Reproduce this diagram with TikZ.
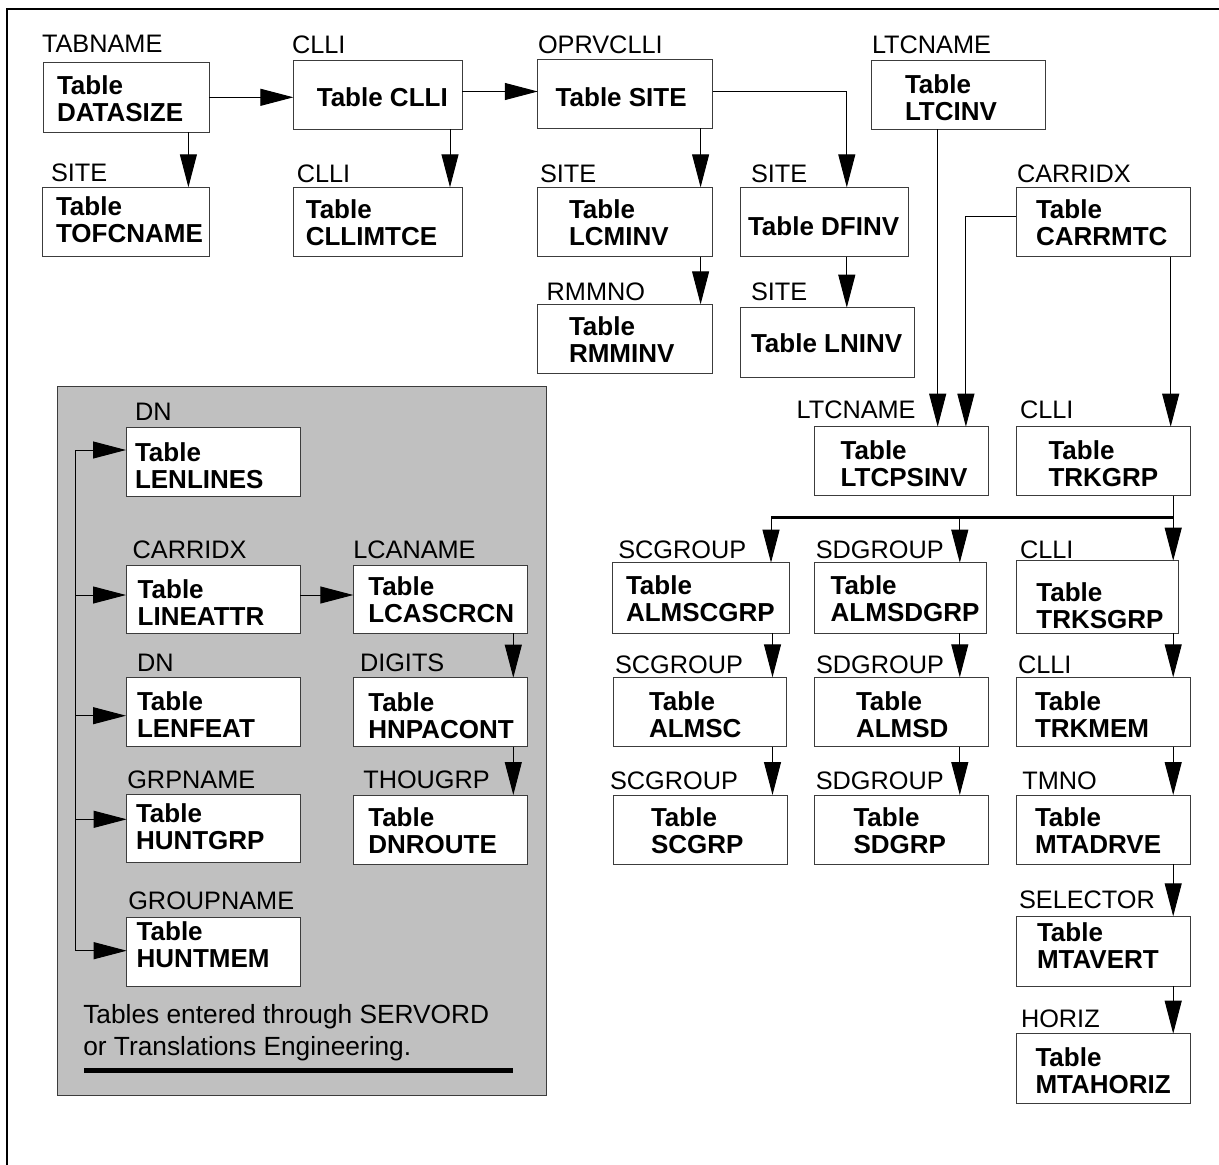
\documentclass[tikz,border=0pt]{standalone}
\usepackage{fontspec}
\setmainfont{Liberation Sans}
\usetikzlibrary{arrows.meta}
\definecolor{panelgrey}{RGB}{192,192,192}
\definecolor{edgegrey}{RGB}{60,60,60}
\tikzset{
  tabbox/.style={draw=edgegrey, fill=white, line width=1pt, inner sep=0pt, outer sep=0pt},
  boxtext/.style={inner sep=0pt, outer sep=0pt, align=left, anchor=north west,
    font=\fontsize{26}{27}\selectfont\bfseries},
  keylabel/.style={inner sep=0pt, outer sep=0pt, anchor=base west,
    font=\fontsize{25.3}{27}\selectfont},
  conn/.style={draw=black, line width=1pt},
  arr/.style={conn, -{Triangle[length=33pt,width=17pt]}},
  busline/.style={draw=black, line width=2.8pt},
}
% name, x1, y1, x2, y2, text x, first baseline, text
\newcommand\tbox[8]{%
  \node[tabbox, minimum width={(#4-#2)*1pt}, minimum height={(#5-#3)*1pt}]
    (#1) at ({(#2+#4)/2},{(#3+#5)/2}) {};
  \node[boxtext] (#1t) at (#6,{#7-18.8}) {#8};
}
\newcommand\klabel[4]{\node[keylabel] (#1) at (#2,#3) {#4};}
\begin{document}
\begin{tikzpicture}[x=1pt,y=-1pt]
\useasboundingbox (0,0) rectangle (1219,1165);
\fill[white] (0,0) rectangle (1219,1165);
% frame
\draw[line width=1.8pt] (7,1165) -- (7,9) -- (1219,9);
% grey panel
\node[draw=edgegrey, fill=panelgrey, line width=1pt, inner sep=0pt,
  minimum width={(546-57.3)*1pt}, minimum height={(1095-386.7)*1pt}]
  (panel) at ({(57.3+546)/2},{(386.7+1095)/2}) {};

% ---- top left
\klabel{l1}{42}{52.7}{TABNAME}
\tbox{datasize}{43.4}{62.5}{209}{132}{57}{94.5}{Table\\DATASIZE}
\klabel{l2}{51}{181.7}{SITE}
\tbox{tofcname}{42.7}{187.3}{209.4}{256.7}{56}{215}{Table\\TOFCNAME}
\klabel{l3}{292}{53}{CLLI}
\tbox{clli}{293.4}{60.7}{462.1}{129.3}{316.8}{106}{Table CLLI}
\klabel{l4}{296.8}{182}{CLLI}
\tbox{cllimtce}{293.4}{187.3}{462.1}{256.7}{305.8}{218.3}{Table\\CLLIMTCE}
% ---- top middle
\klabel{l5}{538}{53.3}{OPRVCLLI}
\tbox{site}{537.8}{59.3}{712.6}{128.3}{555.7}{106.7}{Table SITE}
\klabel{l6}{540}{182}{SITE}
\tbox{lcminv}{537.8}{187.3}{712.6}{256.7}{569}{218}{Table\\LCMINV}
\klabel{l7}{546.7}{300}{RMMNO}
\tbox{rmminv}{537.8}{304.3}{712.6}{373.3}{569}{335}{Table\\RMMINV}
\klabel{l8}{751}{182}{SITE}
\tbox{dfinv}{740.7}{187.3}{908.8}{256.7}{748}{235}{Table DFINV}
\klabel{l9}{751}{300}{SITE}
\tbox{lninv}{740.7}{307.7}{914.6}{377.3}{751}{352}{Table LNINV}
\klabel{l10}{872}{53}{LTCNAME}
\tbox{ltcinv}{871.7}{60.7}{1045.7}{129}{905}{93}{Table\\LTCINV}
\klabel{l11}{1017}{182}{CARRIDX}
\tbox{carrmtc}{1016}{187.3}{1190}{256.7}{1036}{218}{Table\\CARRMTC}
% ---- right lower
\klabel{l12}{796.6}{418.3}{LTCNAME}
\tbox{ltcpsinv}{814.6}{426.7}{988.3}{495.7}{840.7}{459}{Table\\LTCPSINV}
\klabel{l13}{1020}{418.3}{CLLI}
\tbox{trkgrp}{1016.4}{426.7}{1190.5}{495.7}{1048.5}{459}{Table\\TRKGRP}
\klabel{l14}{618.3}{558.3}{SCGROUP}
\tbox{almscgrp}{612.7}{562.7}{789.3}{633.3}{626}{594.3}{Table\\ALMSCGRP}
\klabel{l15}{815.8}{558.3}{SDGROUP}
\tbox{almsdgrp}{814.6}{562.7}{986.3}{633.3}{830.7}{594.3}{Table\\ALMSDGRP}
\klabel{l16}{1020}{558.3}{CLLI}
\tbox{trksgrp}{1016.4}{560.7}{1178}{633.3}{1036.4}{601.7}{Table\\TRKSGRP}
\klabel{l17}{615}{673.3}{SCGROUP}
\tbox{almsc}{613}{677.3}{786.5}{746.7}{649}{710}{Table\\ALMSC}
\klabel{l18}{816}{673.3}{SDGROUP}
\tbox{almsd}{814.6}{677.3}{988.3}{746.7}{856}{710}{Table\\ALMSD}
\klabel{l19}{1018}{673.3}{CLLI}
\tbox{trkmem}{1016.4}{677.3}{1190.5}{746.7}{1035}{710}{Table\\TRKMEM}
\klabel{l20}{610}{789.3}{SCGROUP}
\tbox{scgrp}{613.3}{795}{787.8}{864.3}{651}{826.7}{Table\\SCGRP}
\klabel{l21}{815.8}{789.3}{SDGROUP}
\tbox{sdgrp}{814.3}{795}{988.3}{864.3}{853.5}{826.7}{Table\\SDGRP}
\klabel{l22}{1022.4}{789.3}{TMNO}
\tbox{mtadrve}{1016.4}{795}{1190.5}{864.3}{1035}{826.7}{Table\\MTADRVE}
\klabel{l23}{1019}{908.3}{SELECTOR}
\tbox{mtavert}{1016.4}{916.3}{1190.5}{986}{1037}{941.7}{Table\\MTAVERT}
\klabel{l24}{1021}{1027.7}{HORIZ}
\tbox{mtahoriz}{1016.4}{1033.7}{1190.5}{1103.3}{1035.5}{1066.7}{Table\\MTAHORIZ}
% ---- grey panel content
\klabel{g1}{135}{420.7}{DN}
\tbox{lenlines}{126}{427.7}{300}{496.7}{135}{461}{Table\\LENLINES}
\klabel{g2}{132.7}{558.3}{CARRIDX}
\tbox{lineattr}{126}{565}{300}{633.3}{137.7}{598.3}{Table\\LINEATTR}
\klabel{g3}{353.3}{558.3}{LCANAME}
\tbox{lcascrcn}{353.3}{565}{527.7}{633.3}{368.3}{595}{Table\\LCASCRCN}
\klabel{g4}{137}{671.7}{DN}
\tbox{lenfeat}{126}{677.7}{300}{746.7}{137}{710}{Table\\LENFEAT}
\klabel{g5}{360}{671.7}{DIGITS}
\tbox{hnpacont}{353.3}{677.7}{527.7}{746.7}{368.3}{711.7}{Table\\HNPACONT}
\klabel{g6}{127.3}{788.3}{GRPNAME}
\tbox{huntgrp}{126.7}{794}{300.7}{862.7}{136}{822.7}{Table\\HUNTGRP}
\klabel{g7}{363.3}{788.3}{THOUGRP}
\tbox{dnroute}{353.3}{795}{527.7}{864}{368.3}{826.7}{Table\\DNROUTE}
\klabel{g8}{128.3}{909.3}{GROUPNAME}
\tbox{huntmem}{126.7}{917.3}{300.7}{986.7}{136.7}{940}{Table\\HUNTMEM}
\node[inner sep=0pt, outer sep=0pt, anchor=north west, align=left,
  font=\fontsize{26.3}{31.7}\selectfont] (caption) at (83.3,{1023.3-19})
  {Tables entered through SERVORD\\or Translations Engineering.};
\draw[line width=5pt] (84.3,1070) -- (513.3,1070);

% ---- connectors, top
\draw[arr] (datasize.east |- 0,97.3) -- (clli.west |- 0,97.3);
\draw[arr] (datasize.south -| 188.4,0) -- (tofcname.north -| 188.4,0);
\draw[arr] (clli.east |- 0,91.5) -- (site.west |- 0,91.5);
\draw[arr] (clli.south -| 450,0) -- (cllimtce.north -| 450,0);
\draw[arr] (site.south -| 700.6,0) -- (lcminv.north -| 700.6,0);
\draw[arr] (lcminv.south -| 700.6,0) -- (rmminv.north -| 700.6,0);
\draw[arr] (site.east |- 0,91.7) -| (dfinv.north -| 846.8,0);
\draw[arr] (dfinv.south -| 846.8,0) -- (lninv.north -| 846.8,0);
\draw[arr] (ltcinv.south -| 937.7,0) -- (ltcpsinv.north -| 937.7,0);
\draw[arr] (carrmtc.west |- 0,216.7) -| (ltcpsinv.north -| 965.9,0);
\draw[arr] (carrmtc.south -| 1170.7,0) -- (trkgrp.north -| 1170.7,0);
% ---- bus
\coordinate (busL) at (771,517.5);
\coordinate (busM) at (959.8,517.5);
\coordinate (busR) at (1173.2,517.5);
\draw[conn] (trkgrp.south -| busR) -- (busR);
\draw[busline] (busL) -- (busR);
\draw[arr] (busL) -- (almscgrp.north -| busL);
\draw[arr] (busM) -- (almsdgrp.north -| busM);
\draw[arr] (busR) -- (trksgrp.north -| busR);
\draw[arr] (almscgrp.south -| 772.5,0) -- (almsc.north -| 772.5,0);
\draw[arr] (almsc.south -| 772.5,0) -- (scgrp.north -| 772.5,0);
\draw[arr] (almsdgrp.south -| busM) -- (almsd.north -| busM);
\draw[arr] (almsd.south -| busM) -- (sdgrp.north -| busM);
\draw[arr] (trksgrp.south -| busR) -- (trkmem.north -| busR);
\draw[arr] (trkmem.south -| busR) -- (mtadrve.north -| busR);
\draw[arr] (mtadrve.south -| busR) -- (mtavert.north -| busR);
\draw[arr] (mtavert.south -| busR) -- (mtahoriz.north -| busR);
% ---- grey panel connectors
\coordinate (spT) at (75,450);
\coordinate (spB) at (75,950.7);
\draw[conn] (spT) -- (spB);
\draw[arr] (spT) -- (lenlines.west |- spT);
\draw[arr] (spT |- 0,595) -- (lineattr.west |- 0,595);
\draw[arr] (spT |- 0,715.7) -- (lenfeat.west |- 0,715.7);
\draw[arr] (spT |- 0,819.3) -- (huntgrp.west |- 0,819.3);
\draw[arr] (spB) -- (huntmem.west |- spB);
\draw[arr] (lineattr.east |- 0,595) -- (lcascrcn.west |- 0,595);
\draw[arr] (lcascrcn.south -| 513.3,0) -- (hnpacont.north -| 513.3,0);
\draw[arr] (hnpacont.south -| 513.3,0) -- (dnroute.north -| 513.3,0);
\end{tikzpicture}
\end{document}
